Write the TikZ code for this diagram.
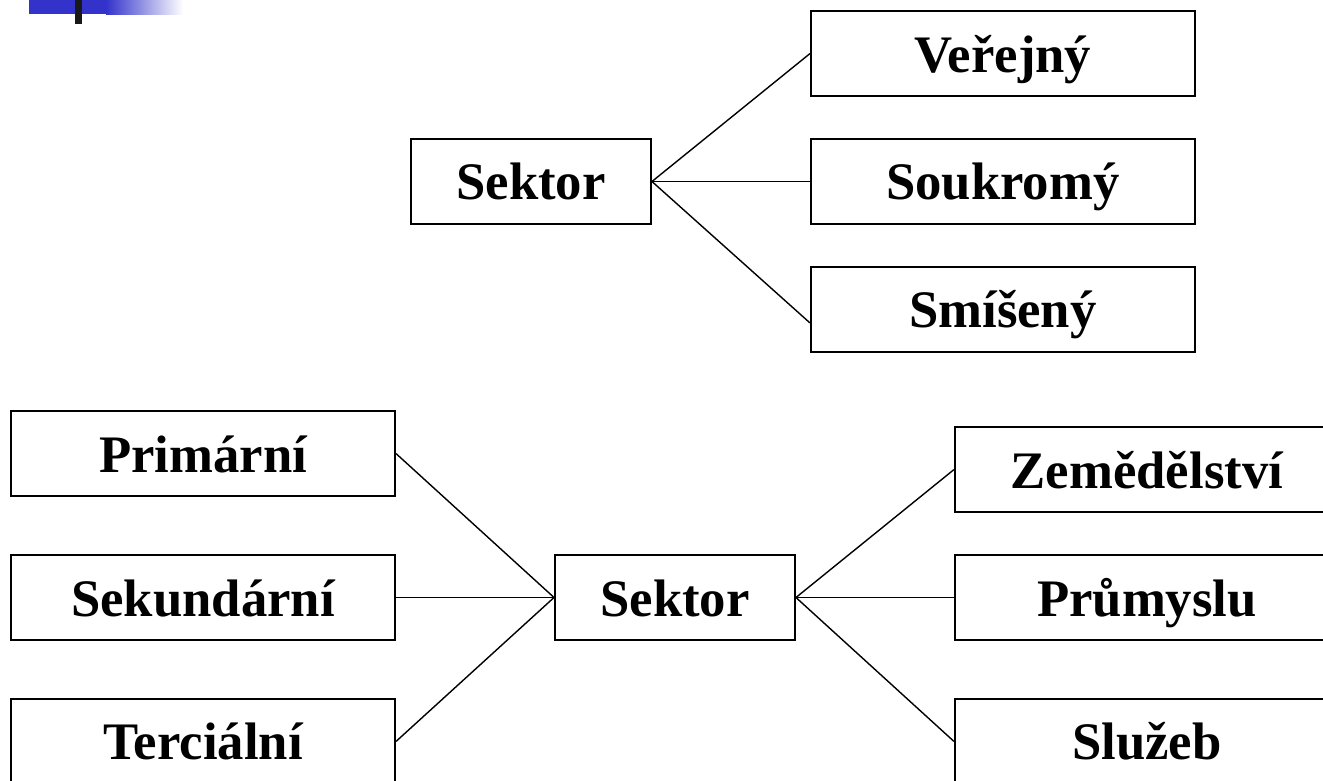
\documentclass[tikz,border=0pt]{standalone}
\usepackage{fontspec}
\setmainfont{Liberation Serif}
\usepackage{tikz}
\usetikzlibrary{positioning}
\definecolor{slideblue}{RGB}{51,51,204}

\begin{document}
\begin{tikzpicture}[node distance={3.16cm}, line width=0.8pt, main/.style = {draw, line width=1.1pt, minimum height=1.7cm, minimum width=7.68cm, inner sep=0pt, text height=0.9cm, text depth=0.16cm, font=\fontsize{30}{36}\selectfont\bfseries}, root/.style = {main, minimum width=4.8cm}]
\clip (0,0) rectangle (26.46,-15.62);
% slide bullet
\fill[slideblue] (0.58,0) rectangle (2.12,-0.28);
\shade[left color=slideblue, right color=white, draw=none] (2.12,0) rectangle (3.66,-0.3);
\fill[black!90] (1.5,0) rectangle (1.64,-0.48);
% upper tree
\node[root] (1) at (10.62,-3.63) {Sektor};
\node[main] (2) [right=of 1] {Soukromý};
\node[main] (3) [above=0.82cm of 2] {Veřejný};
\node[main] (4) [below=0.82cm of 2] {Smíšený};
\draw (1.east) -- (3.west);
\draw (1.east) -- (2.west);
\draw (1.east) -- (4.184);
% lower tree
\node[root] (5) at (13.5,-11.95) {Sektor};
\node[main] (6) [left=of 5] {Sekundární};
\node[main] (7) [above=1.14cm of 6] {Primární};
\node[main] (8) [below=1.14cm of 6] {Terciální};
\node[main] (9) [right=of 5] {Průmyslu};
\node[main] (10) [above=0.82cm of 9] {Zemědělství};
\node[main] (11) [below=1.14cm of 9] {Služeb};
\draw (7.east) -- (5.west);
\draw (6.east) -- (5.west);
\draw (8.east) -- (5.west);
\draw (5.east) -- (10.west);
\draw (5.east) -- (9.west);
\draw (5.east) -- (11.west);
\end{tikzpicture}
\end{document}
